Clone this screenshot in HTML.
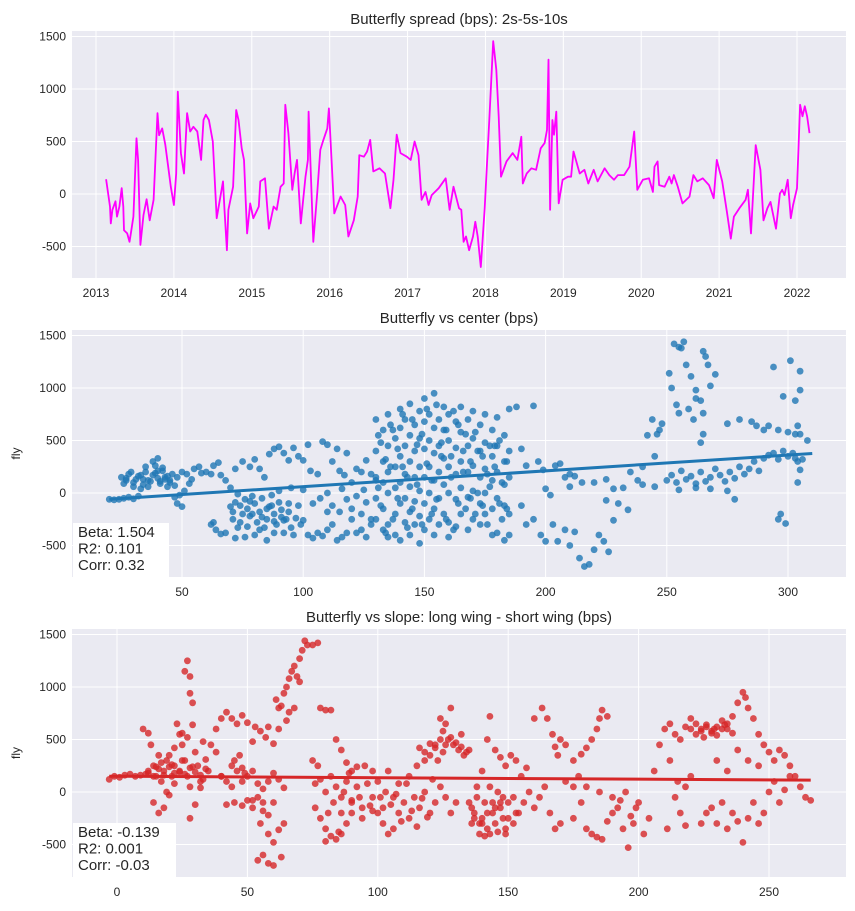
<!DOCTYPE html>
<html><head><meta charset="utf-8">
<style>
html,body{margin:0;padding:0;background:#fff;}
svg{display:block;font-family:"Liberation Sans","DejaVu Sans",sans-serif;}
</style></head>
<body>
<svg id="fig" width="855" height="911" viewBox="0 0 855 911" xmlns="http://www.w3.org/2000/svg"></svg>
<script>
// ---- Panel 1: time series (fractional year, bps) ----
const tsYears = [2013.13,2013.18,2013.19,2013.21,2013.25,2013.27,2013.30,2013.33,2013.35,2013.36,2013.40,2013.43,2013.45,2013.48,2013.52,2013.54,2013.57,2013.61,2013.65,2013.69,2013.74,2013.79,2013.81,2013.85,2013.89,2013.93,2013.96,2014.00,2014.03,2014.05,2014.09,2014.13,2014.17,2014.21,2014.25,2014.30,2014.35,2014.38,2014.41,2014.45,2014.50,2014.55,2014.63,2014.65,2014.68,2014.70,2014.76,2014.80,2014.83,2014.87,2014.90,2014.94,2014.98,2015.02,2015.09,2015.11,2015.17,2015.22,2015.28,2015.32,2015.37,2015.41,2015.43,2015.47,2015.52,2015.55,2015.58,2015.63,2015.69,2015.72,2015.73,2015.79,2015.84,2015.88,2015.92,2015.97,2015.99,2016.02,2016.06,2016.14,2016.20,2016.24,2016.31,2016.36,2016.38,2016.44,2016.48,2016.52,2016.56,2016.64,2016.71,2016.78,2016.82,2016.86,2016.91,2016.99,2017.04,2017.09,2017.14,2017.18,2017.23,2017.27,2017.31,2017.40,2017.49,2017.54,2017.59,2017.66,2017.69,2017.72,2017.75,2017.79,2017.84,2017.87,2017.90,2017.94,2017.99,2018.02,2018.05,2018.10,2018.14,2018.17,2018.20,2018.27,2018.35,2018.41,2018.46,2018.48,2018.53,2018.59,2018.65,2018.71,2018.76,2018.79,2018.81,2018.83,2018.86,2018.88,2018.91,2018.94,2018.99,2019.06,2019.10,2019.13,2019.21,2019.27,2019.32,2019.39,2019.44,2019.53,2019.59,2019.65,2019.70,2019.78,2019.85,2019.91,2019.95,2020.02,2020.10,2020.15,2020.17,2020.21,2020.23,2020.30,2020.36,2020.39,2020.42,2020.47,2020.53,2020.62,2020.67,2020.72,2020.79,2020.87,2020.93,2020.97,2021.04,2021.10,2021.15,2021.19,2021.26,2021.34,2021.37,2021.41,2021.47,2021.53,2021.57,2021.62,2021.66,2021.73,2021.78,2021.81,2021.84,2021.88,2021.92,2021.95,2022.00,2022.04,2022.07,2022.10,2022.13,2022.16];
const tsValues = [140,-120,-280,-150,-70,-215,-120,55,-120,-345,-375,-455,-360,-215,530,325,-485,-200,-50,-250,-55,770,560,625,470,245,70,-105,195,975,390,195,770,595,640,595,325,705,755,705,500,-230,120,-150,-535,-150,70,800,705,435,325,-375,-90,-230,-120,120,150,-330,-120,-150,70,100,850,580,40,195,325,-280,165,325,785,-455,5,420,515,625,815,390,-185,-25,-105,-405,-250,-25,370,355,405,515,215,245,195,-135,135,565,390,355,325,500,370,-55,20,-105,-10,55,150,-150,70,-135,-150,-455,-405,-535,-405,-265,-405,-695,-135,290,705,1455,1185,740,165,310,390,325,545,100,195,245,230,435,485,610,1280,-150,705,565,785,-90,135,165,165,405,195,230,100,230,120,245,180,135,180,180,260,595,40,135,150,20,260,310,85,70,165,100,180,70,-90,-25,180,120,150,85,-40,325,120,-170,-425,-215,-135,-55,40,-375,465,230,-250,-135,-75,-330,5,40,-10,135,-230,-105,55,850,740,835,740,580];
const tsXTicks = [2013,2014,2015,2016,2017,2018,2019,2020,2021,2022];
const flyYTicks = [-500,0,500,1000,1500];

// ---- Panel 2: fly vs center ----
const centerXa = [20,22,24,26,28,30,32,25,27,28,30,32,34,35,37,38,40,41,42,43,45,46,38,40,39,42,36,33,44,47,48,50,52,54,55,57,58,53,51,49,47,50,48,
62,63,64,66,68,70,71,72,73,74,75,76,77,78,79,80,81,82,83,84,85,86,87,88,89,90,91,92,93,94,95,96,97,98,99,76,72,80,85,88,
60,62,63,65,66,68,70,72,75,78,80,82,84,86,88,90,92,94,96,98,100,102,95,90,100,
100,102,104,106,108,110,112,114,116,118,120,122,124,126,128,103,106,108,110,112,114,115,117,118,120,122,124,126,128,130,104,107,110,112,115,118,120,122,124,126,128,110,116,125,
130,130,130,130,130,133,133,133,133,133,135,135,135,135,135,135,138,138,138,138,138,140,140,140,140,140,140,142,142,142,142,142,144,144,144,144,144,144,146,146,146,146,146,148,148,148,148,148,148,150,150,150,150,150,150,152,152,152,152,152,154,154,154,154,154,154,156,156,156,156,156,158,158,158,158,158,160,160,160,160,160,160,163,163,163,163,163,165,165,165,165,165,168,168,168,168,168,170,170,170,170,170,173,173,173,173,173,175,175,175,175,175,178,178,178,178,178,180,180,180,180,180,183,183,183,183,183,185,185,185,185,185,
188,190,192,195,197,199,200,202,204,206,208,210,212,190,192,195,198,200,203,205,208,210,212,214,216,218,220,222,224,226,228,225,230,228,232,234,220,215,210,225,238,235,240,245,242,247,240,245,
250,252,254,256,258,260,262,264,266,268,270,272,274,276,278,280,282,284,286,288,290,292,294,296,298,300,302,304,306,255,262,268,275,278,
251,253,255,257,256,252,254,258,260,262,264,265,266,267,268,270,265,265,264,262,261,259,255,248,246,244,275,280,285,287,290,292,296,300,303,305,294,301,305,305,298,303,304,308,303,305,304,296,299,297];
const centerFlyA = [-60,-65,-60,-50,-40,-55,-30,150,120,180,100,160,130,200,110,170,140,90,210,150,120,180,300,330,260,240,60,40,60,70,150,200,180,130,230,250,190,90,20,-20,-40,-130,-100,
-300,-280,-350,-390,-380,-130,-250,-90,-10,-120,-200,-60,-150,-220,-30,-100,-280,-180,-50,-330,-250,-130,-20,-200,-300,-90,-160,-380,-250,-180,-330,-400,-240,-120,-300,-420,-430,-400,-450,-380,
200,180,260,290,170,120,50,230,300,250,320,230,150,370,420,440,380,310,430,350,310,460,50,20,30,
-260,-400,-430,-380,-410,-350,-300,-450,-420,-380,-250,-380,-350,-420,-300,210,180,490,460,300,420,210,170,380,100,230,200,310,180,120,-100,-50,0,-120,-180,-60,-150,-30,-200,-90,-250,-180,40,30,
700,400,150,-50,-250,600,300,100,-150,-350,750,450,200,0,-300,-420,520,250,50,-200,-400,800,620,350,100,-100,-450,700,450,180,-50,-280,850,550,300,60,-180,-400,650,400,150,-80,-300,780,520,250,20,-220,-480,900,680,420,150,-100,-350,750,500,250,0,-250,950,620,380,120,-150,-400,700,450,200,-50,-300,820,600,330,80,-200,750,500,250,0,-280,-420,680,430,180,-60,-320,820,580,300,50,-200,700,450,200,-40,-350,780,520,260,20,-250,650,400,150,-100,-300,750,480,230,0,-200,600,350,120,-150,-400,720,450,200,-50,-380,550,300,80,-120,-450,800,400,150,-200,-400,
820,420,260,830,300,220,40,-20,260,280,150,180,160,-120,-300,-250,-400,-460,-300,-460,-350,-500,-370,-620,-700,-680,-540,-400,-460,-560,-260,-70,-100,40,50,-160,100,100,60,130,120,200,250,350,550,600,80,60,
120,170,100,210,130,160,90,200,110,150,230,170,110,200,140,250,180,230,300,210,330,360,380,320,400,350,380,300,320,30,50,40,20,-60,
1140,1420,1390,1440,1380,1000,840,1220,1110,900,880,1350,1300,1220,1020,1130,760,560,480,980,700,800,760,660,560,700,660,700,680,640,600,640,600,580,560,560,1200,1260,1160,980,920,880,640,500,330,220,100,-250,-290,-200];
const centerXb = [131,132,134,136,137,139,141,143,145,147,149,151,153,155,157,159,161,162,164,166,167,169,171,172,174,176,177,179,181,182,184,
131,132,134,136,137,139,141,143,145,147,149,151,153,155,157,159,161,162,164,166,167,169,171,172,174,176,177,179,181,182,184,
26,29,31,33,36,39,41,44,30,35,40,45,27,34,43,
71,74,77,79,82,85,88,91,94,73,78,83,87,92];
const centerFlyB = [550,-120,320,650,-250,420,250,-330,700,80,560,280,-200,840,350,600,150,-350,650,400,-150,300,580,0,350,-300,450,250,-100,100,300,
50,480,-380,250,600,-50,750,150,-150,460,-300,800,120,-60,480,-250,350,780,-100,200,560,-50,-200,400,-120,180,60,450,500,-250,-150,
90,200,130,170,120,190,110,160,60,250,210,100,140,80,130,
-180,-280,-320,-200,-350,-150,-270,-230,-100,-330,-80,-230,-120,-260];
const centerBeta = 1.504, centerIntercept = -90, centerLineX = [20,310];

// ---- Panel 3: fly vs slope ----
const slopeXa = [-3,-1,1,3,5,7,9,11,
10,12,13,14,15,16,17,18,19,20,21,22,23,24,25,26,27,28,26,27,28,28,29,30,31,32,33,34,35,14,16,18,20,22,24,28,30,32,12,15,19,22,25,27,29,36,38,
38,40,42,44,46,48,50,52,53,55,57,58,60,62,40,42,44,45,46,47,48,49,50,52,54,56,58,60,62,64,42,45,48,50,52,54,56,58,60,55,58,60,62,56,58,60,54,63,64,
63,64,65,66,67,68,70,71,72,73,75,77,69,70,62,61,68,66,65,
75,77,78,80,82,84,86,88,90,92,95,98,76,78,80,82,84,86,88,90,92,94,96,98,100,76,78,80,82,84,86,88,90,80,85,81,83,87,89,93,97,
100,102,104,106,108,110,112,114,116,118,120,122,124,126,128,130,101,103,105,107,109,111,113,115,117,119,121,123,125,127,129,131,133,120,122,124,126,128,125,132,135,112,115,118,108,104,
135,136,137,138,139,140,141,142,143,144,145,146,147,148,149,150,152,154,156,158,160,162,164,140,142,143,145,147,149,151,153,155,157,160,163,165,167,168,169,170,166,168,170,
172,175,178,180,182,184,185,186,188,172,175,178,180,182,184,186,188,190,192,194,196,198,200,202,204,175,190,195,185,180,177,193,197,199,
206,208,210,212,214,216,218,220,222,224,226,228,230,232,234,236,238,240,241,242,244,246,248,250,252,254,256,258,260,262,264,266,212,215,218,220,224,226,228,230,232,234,236,238,240,242,244,246,248,250,252,254,256,258,230,234,238,242,246,214,216,218,211];
const slopeFlyA = [120,150,140,160,170,150,160,170,
600,560,450,250,150,350,100,200,0,350,150,250,650,550,450,300,150,50,1150,1250,1100,940,850,380,250,100,480,310,200,-100,-200,-150,-30,80,190,-250,-120,40,200,240,300,420,560,520,640,450,380,
600,700,760,700,650,730,660,480,620,580,520,620,460,600,150,100,250,300,200,350,230,180,150,200,80,30,100,180,120,40,-120,-100,-130,-80,-150,-50,-180,-220,-100,-300,-400,-480,-360,-600,-680,-700,-650,-620,-300,
820,940,1000,1080,1150,1200,1270,1350,1440,1400,1400,1420,1100,1050,800,880,800,760,680,
300,250,800,780,780,500,400,280,200,240,250,200,80,120,0,150,50,-50,100,-100,50,-150,80,-50,100,-150,-250,-350,-420,-450,-400,-300,-200,-470,-380,-200,-100,0,180,-50,-130,
-200,-300,-400,-350,-200,-100,-250,-50,-150,0,-200,-100,50,-50,-200,-100,-50,0,-120,-20,-280,80,-180,-330,-60,-240,120,300,380,500,450,400,350,350,450,700,650,800,580,550,400,150,250,300,80,200,
-100,-300,-200,50,-400,-250,-100,-350,50,-200,-300,0,-150,-250,-400,-100,-50,-200,-100,0,-150,-50,50,200,500,720,400,330,250,350,300,150,230,700,800,700,550,430,350,500,-200,-350,-300,
450,300,360,420,500,600,700,780,720,100,50,-100,-350,-400,-430,-450,-280,-200,-150,-350,-530,-300,-100,-400,-250,-250,-50,0,0,50,150,-80,-230,-150,
200,450,600,650,550,500,620,700,550,600,620,580,540,600,650,720,850,950,900,800,700,550,450,380,300,400,350,250,150,50,-50,-80,300,100,50,150,-300,-200,-150,-300,-100,-350,-200,-280,-480,-250,-100,-300,-200,0,100,-100,20,150,300,200,400,300,250,-50,-200,-320,-350];
const slopeXb = [12,14,16,18,20,22,24,26,28,30,32,34,17,21,25,29,33,
116,118,120,122,124,126,128,130,132,134,136,138,140,142,144,146,148,150,152,137,141,145,149,153,139,143,147,
220,222,224,226,228,230,232,234,236,225,229,233,40,44,48,52,56,86,90,94,98,102,106];
const slopeFlyB = [180,150,220,160,240,180,200,170,230,190,160,220,280,260,300,240,120,
420,380,460,420,500,450,520,470,430,380,-150,-50,-300,-200,-100,-380,-50,-250,-300,-250,-420,-150,-350,-200,-300,-400,-100,
600,650,580,640,560,620,680,600,560,520,600,640,150,50,100,-80,-100,-200,-80,-250,-180,-150,-50];
const slopeBeta = -0.139, slopeIntercept = 150, slopeLineX = [-3,266];

const NS = "http://www.w3.org/2000/svg";
const svg = document.getElementById('fig');
function mk(tag, attrs, parent){
  const e = document.createElementNS(NS, tag);
  for (const k in attrs) e.setAttribute(k, attrs[k]);
  (parent||svg).appendChild(e);
  return e;
}
function scale(d0,d1,p0,p1){ return v => p0 + (v-d0)*(p1-p0)/(d1-d0); }

function axesFrame(box, xs, ys, xTicks, yTicks, xFmt, title, ylabel, key){
  const g = mk('g', {});
  
  
  const bg = mk('rect', {x:box.l, y:box.t, width:box.r-box.l, height:box.b-box.t, fill:'#eaeaf2'}, g);
  
  
  yTicks.forEach(v => {
    const y = ys(v);
    const ln = mk('line', {x1:box.l, x2:box.r, y1:y, y2:y, stroke:'#fff', 'stroke-width':1}, g);
    
    
    const t = mk('text', {x:box.l-6, y:y+4, 'text-anchor':'end', 'font-size':12, fill:'#262626'}, g);
    t.textContent = v;
    
    
  });
  xTicks.forEach(v => {
    const x = xs(v);
    const ln = mk('line', {x1:x, x2:x, y1:box.t, y2:box.b, stroke:'#fff', 'stroke-width':1}, g);
    
    
    const t = mk('text', {x:x, y:box.b+19, 'text-anchor':'middle', 'font-size':12, fill:'#262626'}, g);
    t.textContent = xFmt(v);
    
    
  });
  const tt = mk('text', {x:(box.l+box.r)/2, y:box.t-7, 'text-anchor':'middle', 'font-size':15, fill:'#262626'});
  tt.textContent = title;
  
  
  if (ylabel){
    const cy = (box.t+box.b)/2;
    const yl = mk('text', {x:20, y:cy, 'text-anchor':'middle', 'font-size':12, fill:'#262626', transform:'rotate(-90 20 '+cy+')'});
    yl.textContent = ylabel;
    
    
  }
}

// Panel 1
(function(){
  const box = {l:72, r:846, t:31, b:278};
  const xs = scale(2013, 2022, 96, 797);
  const ys = scale(0, 1000, 194, 89);
  axesFrame(box, xs, ys, tsXTicks, flyYTicks, v=>v, 'Butterfly spread (bps): 2s-5s-10s', null, 'spread');
  let d = '';
  tsYears.forEach((t,i) => { d += (i?'L':'M') + xs(t).toFixed(1) + ',' + ys(tsValues[i]).toFixed(1); });
  const p = mk('path', {d:d, fill:'none', stroke:'#ff00ff', 'stroke-width':1.8, 'stroke-linejoin':'round'});
  
  
})();

function scatterPanel(box, xs, ys, xTicks, X, Y, beta, icpt, lineX, color, title, stats, boxW, key){
  axesFrame(box, xs, ys, xTicks, flyYTicks, v=>v, title, 'fly', key);
  const g = mk('g', {fill:color, 'fill-opacity':0.8});
  
  
  X.forEach((x,i) => {
    const c = mk('circle', {cx:xs(x).toFixed(1), cy:ys(Y[i]).toFixed(1), r:3.4}, g);
    
    
  });
  const rl = mk('line', {x1:xs(lineX[0]), y1:ys(icpt+beta*lineX[0]), x2:xs(lineX[1]), y2:ys(icpt+beta*lineX[1]), stroke:color, 'stroke-width':3});
  
  
  const sb = mk('rect', {x:box.l+1, y:box.b-54, width:boxW, height:54, fill:'#fff'});
  
  
  stats.forEach((s,i) => {
    const t = mk('text', {x:box.l+6, y:box.b-40+i*16.5, 'font-size':15, fill:'#262626'});
    t.textContent = s;
    
    
  });
}

scatterPanel({l:72, r:846, t:330, b:577}, scale(50,300,182,788), scale(0,1000,493,388),
  [50,100,150,200,250,300], centerXa.concat(centerXb), centerFlyA.concat(centerFlyB), centerBeta, centerIntercept, centerLineX,
  '#1f77b4', 'Butterfly vs center (bps)', ['Beta: 1.504','R2: 0.101','Corr: 0.32'], 96, 'center');

scatterPanel({l:72, r:846, t:629, b:877}, scale(0,250,117,769), scale(0,1000,792,687),
  [0,50,100,150,200,250], slopeXa.concat(slopeXb), slopeFlyA.concat(slopeFlyB), slopeBeta, slopeIntercept, slopeLineX,
  '#d62728', 'Butterfly vs slope: long wing - short wing (bps)', ['Beta: -0.139','R2: 0.001','Corr: -0.03'], 103, 'slope');
</script>
</body></html>
